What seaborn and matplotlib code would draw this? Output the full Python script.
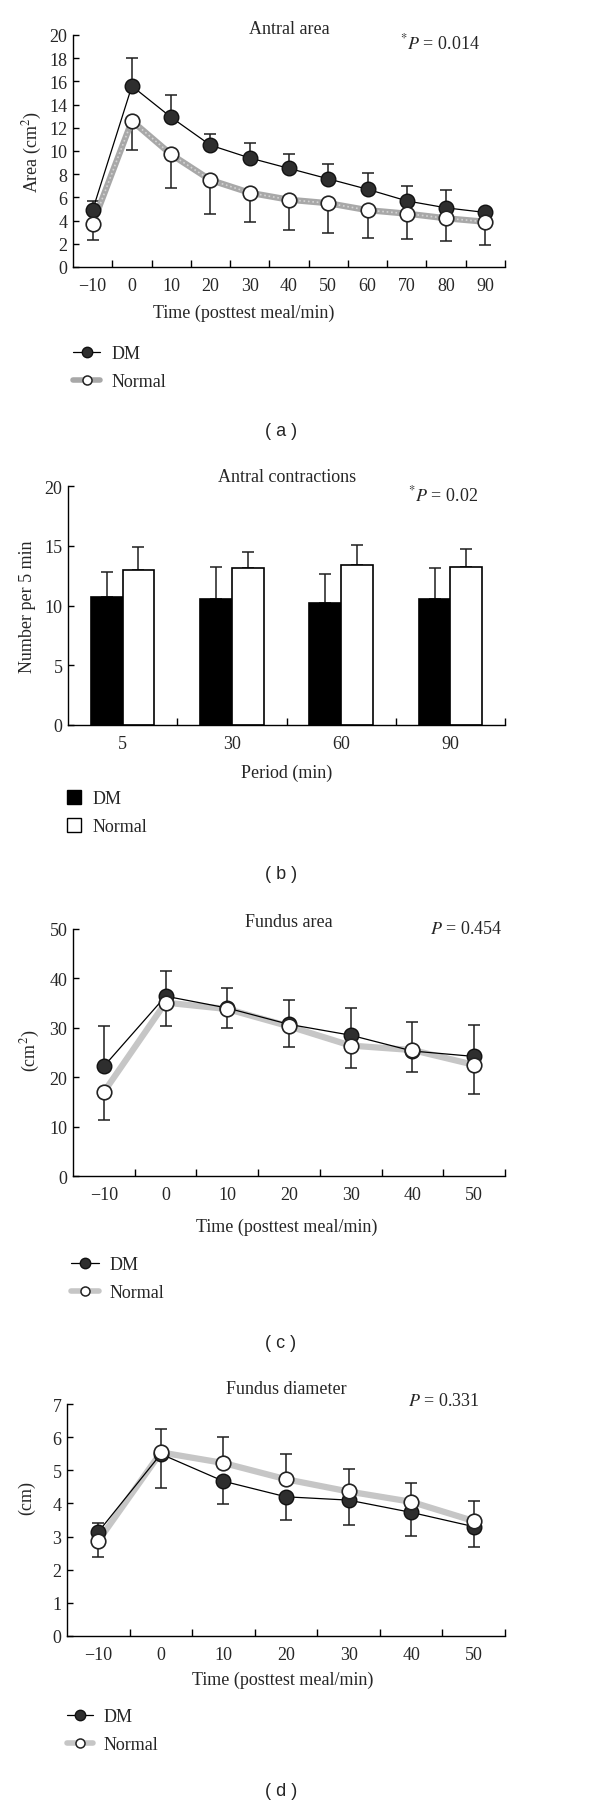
import numpy as np
import pandas as pd
import matplotlib
matplotlib.use("Agg")
import matplotlib.pyplot as plt
import seaborn as sns
from matplotlib.lines import Line2D
from matplotlib.patches import Patch

# ---- data ----
times_a = [-10, 0, 10, 20, 30, 40, 50, 60, 70, 80, 90]
area_dm = [4.9, 15.6, 12.9, 10.5, 9.4, 8.5, 7.6, 6.7, 5.7, 5.1, 4.7]
area_dm_sd = [0.8, 2.4, 1.9, 1.0, 1.3, 1.2, 1.3, 1.4, 1.3, 1.5, 0.2]
area_nl = [3.7, 12.6, 9.7, 7.5, 6.4, 5.8, 5.5, 4.9, 4.6, 4.2, 3.9]
area_nl_sd = [1.4, 2.5, 2.9, 2.9, 2.5, 2.6, 2.6, 2.4, 2.2, 2.0, 2.0]

periods = ["5", "30", "60", "90"]
contr_dm = [10.75, 10.55, 10.2, 10.55]
contr_dm_sd = [2.05, 2.65, 2.45, 2.6]
contr_nl = [13.0, 13.1, 13.35, 13.2]
contr_nl_sd = [1.9, 1.35, 1.7, 1.5]

times_c = [-10, 0, 10, 20, 30, 40, 50]
fa_dm = [22.2, 36.4, 34.0, 30.7, 28.5, 25.3, 24.2]
fa_dm_sd = [8.2, 5.1, 4.0, 5.0, 5.6, 5.8, 6.3]
fa_nl = [17.0, 35.1, 33.8, 30.3, 26.4, 25.5, 22.5]
fa_nl_sd = [5.7, 4.7, 3.9, 4.1, 4.6, 4.4, 5.8]

fd_dm = [3.14, 5.49, 4.67, 4.20, 4.10, 3.73, 3.30]
fd_dm_sd = [0.77, 1.01, 0.69, 0.71, 0.74, 0.71, 0.61]
fd_nl = [2.87, 5.54, 5.22, 4.73, 4.36, 4.05, 3.47]
fd_nl_sd = [0.53, 0.70, 0.77, 0.76, 0.68, 0.56, 0.61]

sns.set_theme(style="ticks")
plt.rcParams["font.family"] = ["Liberation Serif", "DejaVu Serif"]
plt.rcParams["mathtext.fontset"] = "stix"
plt.rcParams["font.size"] = 13
plt.rcParams["axes.linewidth"] = 1.0

W, H = 600, 1808
fig = plt.figure(figsize=(6, 18.08), dpi=100)
FS = 13
DM_C = "#2e2e2e"
ERR_C = "#1e1e1e"


def px_axes(left, top, right, bottom):
    return fig.add_axes([left / W, 1 - bottom / H, (right - left) / W, (bottom - top) / H])


def ftext(x, y, s, **kw):
    kw.setdefault("ha", "center")
    kw.setdefault("va", "center")
    kw.setdefault("fontsize", FS)
    fig.text(x / W, 1 - y / H, s, **kw)


def style_axes(ax, xlim, ylim, yticks, xlabels_at, minor_at, labels):
    sns.despine(ax=ax)
    ax.set_xlim(*xlim)
    ax.set_ylim(*ylim)
    ax.set_yticks(yticks)
    ax.set_yticklabels([str(v) for v in yticks], fontsize=FS)
    ax.set_xticks(xlabels_at)
    ax.set_xticklabels(labels, fontsize=FS)
    ax.set_xticks(minor_at, minor=True)
    ax.tick_params(axis="x", which="major", length=0, pad=7)
    ax.tick_params(axis="x", which="minor", direction="in", length=5, width=1, color="black")
    ax.tick_params(axis="y", direction="in", length=4.5, width=1, color="black", pad=4)
    ax.spines["left"].set_color("black")
    ax.spines["bottom"].set_color("black")
    ax.set_xlabel("")
    ax.set_ylabel("")
    ax.grid(False)


def line_panel(ax, t, dm, dm_sd, nl, nl_sd, nl_color, dm_up=True, dotted=False):
    zeros = np.zeros(len(t))
    dm_err = [zeros, dm_sd] if dm_up else [dm_sd, zeros]
    nl_err = [nl_sd, zeros] if dm_up else [zeros, nl_sd]
    ax.errorbar(t, dm, yerr=dm_err, fmt="none", ecolor=ERR_C, elinewidth=1.1,
                capsize=4, capthick=1.1, zorder=1)
    ax.errorbar(t, nl, yerr=nl_err, fmt="none", ecolor=ERR_C, elinewidth=1.1,
                capsize=4, capthick=1.1, zorder=1)
    sns.lineplot(x=t, y=nl, ax=ax, color=nl_color, linewidth=4.5, zorder=2,
                 errorbar=None, legend=False)
    if dotted:
        sns.lineplot(x=t, y=nl, ax=ax, color="#d4d4d4", linewidth=1.2, linestyle=":",
                     zorder=2.1, errorbar=None, legend=False)
    sns.lineplot(x=t, y=dm, ax=ax, color="black", linewidth=0.9, marker="o",
                 markersize=10.5, markerfacecolor=DM_C, markeredgecolor="#111111",
                 markeredgewidth=1, zorder=3, errorbar=None, legend=False)
    sns.scatterplot(x=t, y=nl, ax=ax, s=110, color="white", edgecolor="#222222",
                    linewidth=1.2, zorder=4, legend=False)


def line_legend(ax, x, y_top, nl_color, hl, tp):
    h_dm = Line2D([], [], color="black", lw=0.9, marker="o", ms=7.5,
                  mfc=DM_C, mec="#111111")
    h_nl = Line2D([], [], color=nl_color, lw=4, marker="o", ms=6.5,
                  mfc="white", mec="#222222", mew=1.1)
    ax.legend([h_dm, h_nl], ["DM", "Normal"], loc="upper left",
              bbox_to_anchor=(x / W, 1 - y_top / H), bbox_transform=fig.transFigure,
              frameon=False, borderpad=0, borderaxespad=0, handlelength=hl,
              handletextpad=tp, labelspacing=0.6, fontsize=FS)


# ---- (a) Antral area ----
ax = px_axes(73, 36, 505, 268)
line_panel(ax, times_a, area_dm, area_dm_sd, area_nl, area_nl_sd, "#a8a8a8", dotted=True)
style_axes(ax, (-15, 95), (0, 20), list(range(0, 21, 2)), times_a,
           list(range(-5, 96, 10)), ["\u221210"] + [str(v) for v in times_a[1:]])
ftext(289, 30, "Antral area")
ftext(400, 43, r"${}^{*}P$ = 0.014", ha="left")
ftext(32, 152, r"Area (cm$^2$)", rotation=90)
ftext(244, 313, "Time (posttest meal/min)")
line_legend(ax, 73, 346, "#a8a8a8", 1.5, 0.65)
ftext(281, 432, "( a )", family=["Liberation Sans", "DejaVu Sans"], fontsize=13)

# ---- (b) Antral contractions ----
ax = px_axes(68, 487, 505, 726)
df_b = pd.DataFrame({
    "period": periods * 2,
    "value": contr_dm + contr_nl,
    "group": ["DM"] * 4 + ["Normal"] * 4,
})
sns.barplot(data=df_b, x="period", y="value", hue="group", palette=["black", "white"],
            edgecolor="black", linewidth=1.2, width=0.58, errorbar=None,
            legend=False, ax=ax, zorder=2)
for cont, sd in zip(ax.containers, [contr_dm_sd, contr_nl_sd]):
    xs = [b.get_x() + b.get_width() / 2 for b in cont]
    ys = [b.get_height() for b in cont]
    ax.errorbar(xs, ys, yerr=[np.zeros(len(sd)), sd], fmt="none", ecolor=ERR_C,
                elinewidth=1.1, capsize=4, capthick=1.1, zorder=1)
style_axes(ax, (-0.5, 3.5), (0, 20), [0, 5, 10, 15, 20], [0, 1, 2, 3],
           [0.5, 1.5, 2.5, 3.5], periods)
ftext(287, 478, "Antral contractions")
ftext(408, 495, r"${}^{*}P$ = 0.02", ha="left")
ftext(27, 607, "Number per 5 min", rotation=90)
ftext(287, 773, "Period (min)")
ax.legend([Patch(facecolor="black", edgecolor="black"),
           Patch(facecolor="white", edgecolor="black")], ["DM", "Normal"],
          loc="upper left", bbox_to_anchor=(67 / W, 1 - 791 / H),
          bbox_transform=fig.transFigure, frameon=False, borderpad=0,
          borderaxespad=0, handlelength=0.8, handleheight=0.8, handletextpad=0.6,
          labelspacing=0.6, fontsize=FS)
ftext(281, 875, "( b )", family=["Liberation Sans", "DejaVu Sans"], fontsize=13)

# ---- (c) Fundus area ----
ax = px_axes(73, 930, 505, 1177)
line_panel(ax, times_c, fa_dm, fa_dm_sd, fa_nl, fa_nl_sd, "#c6c6c6")
style_axes(ax, (-15, 55), (0, 50), [0, 10, 20, 30, 40, 50], times_c,
           list(range(-5, 56, 10)), ["\u221210"] + [str(v) for v in times_c[1:]])
ftext(289, 923, "Fundus area")
ftext(502, 929, r"$P$ = 0.454", ha="right")
ftext(30, 1051, r"(cm$^2$)", rotation=90)
ftext(287, 1227, "Time (posttest meal/min)")
line_legend(ax, 71, 1257, "#c6c6c6", 1.55, 0.6)
ftext(281, 1343, "( c )", family=["Liberation Sans", "DejaVu Sans"], fontsize=13)

# ---- (d) Fundus diameter ----
ax = px_axes(67, 1405, 505, 1637)
line_panel(ax, times_c, fd_dm, fd_dm_sd, fd_nl, fd_nl_sd, "#c6c6c6", dm_up=False)
style_axes(ax, (-15, 55), (0, 7), list(range(0, 8)), times_c,
           list(range(-5, 56, 10)), ["\u221210"] + [str(v) for v in times_c[1:]])
ftext(286, 1389, "Fundus diameter")
ftext(480, 1402, r"$P$ = 0.331", ha="right")
ftext(27, 1498, "(cm)", rotation=90)
ftext(283, 1680, "Time (posttest meal/min)")
line_legend(ax, 67, 1709, "#c6c6c6", 1.45, 0.55)
ftext(281, 1792, "( d )", family=["Liberation Sans", "DejaVu Sans"], fontsize=13)

fig.savefig("out.png", dpi=100)
